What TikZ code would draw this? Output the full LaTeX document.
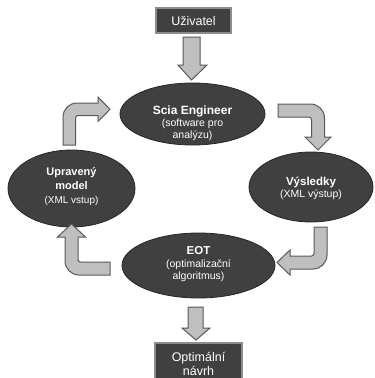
\documentclass[tikz,border=0pt]{standalone}
\usepackage{fontspec}
\setmainfont{Liberation Sans}
\usetikzlibrary{shapes.geometric}
\definecolor{dk}{HTML}{404040}
\definecolor{ol}{HTML}{262626}
\definecolor{bx}{HTML}{8C8C8C}
\definecolor{af}{HTML}{BFBFBF}
\definecolor{ad}{HTML}{595959}
\begin{document}
\begin{tikzpicture}[x=1pt,y=-1pt,
  ell/.style={ellipse, fill=dk, draw=ol, line width=0.8pt, inner sep=0pt},
  boxst/.style={rectangle, fill=dk, draw=bx, line width=1.2pt, inner sep=0pt},
  bigarrow/.style={fill=af, draw=ad, line width=1pt, line join=miter},
  txt/.style={text=white, anchor=base, inner sep=0pt},
  ttl/.style={txt, font=\fontsize{#1}{14}\selectfont\bfseries},
  sub/.style={txt, font=\fontsize{#1}{12}\selectfont},
  boxtxt/.style={txt, font=\fontsize{12.5}{14}\selectfont}]
\fill[white] (0,0) rectangle (375,378);
\clip (0,0) rectangle (375,378);
\useasboundingbox (0,0) rectangle (375,378);

% boxes
\node[boxst, minimum width=75pt, minimum height=25pt] (user) at (193.5,20.5) {};
\node[boxst, minimum width=87pt, minimum height=39pt] (opt) at (198.5,362.5) {};

% ellipses
\node[ell, minimum width=145pt, minimum height=62pt] (scia) at (192.5,114) {};
\node[ell, minimum width=124pt, minimum height=70pt] (vys) at (311,187) {};
\node[ell, minimum width=127pt, minimum height=77pt] (upr) at (71.5,188.5) {};
\node[ell, minimum width=153pt, minimum height=65pt] (eot) at (198.5,265.5) {};

% texts
\node[boxtxt] (userT) at (193.5,25) {Uživatel};
\node[boxtxt] (optT1) at (198.5,361.5) {Optimální};
\node[boxtxt] (optT2) at (198.5,375.5) {návrh};

\node[ttl=12] (sciaT1) at (192.5,114) {Scia Engineer};
\node[sub=10.5] (sciaT2) at (192.5,126.5) {(software pro};
\node[sub=10.5] (sciaT3) at (192.5,138.5) {analýzu)};

\node[ttl=11] (uprT1) at (71.5,175) {Upravený};
\node[ttl=11] (uprT2) at (71.5,189) {model};
\node[sub=10] (uprT3) at (71.5,203) {(XML vstup)};

\node[ttl=11.5] (vysT1) at (311,185) {Výsledky};
\node[sub=10.5] (vysT2) at (311,197) {(XML výstup)};

\node[ttl=11.5] (eotT1) at (198.5,254) {EOT};
\node[sub=10.5] (eotT2) at (198.5,267) {(optimalizační};
\node[sub=10.5] (eotT3) at (198.5,279.5) {algoritmus)};

% straight arrows
\draw[bigarrow] (183,37) -- (200,37) -- (200,65) -- (207,65) -- (191.5,80)
  -- (178,65) -- (183,65) -- cycle;
\draw[bigarrow] (188,307) -- (203,307) -- (203,328) -- (210,328) -- (196,340)
  -- (182,328) -- (188,328) -- cycle;

% bent arrows
% upravený -> scia
\draw[bigarrow] (63,145) -- (63,117) .. controls (63,109.27) and (69.27,103) .. (77,103)
  -- (98,103) -- (98,97) -- (110,109.25) -- (98,121.5) -- (98,115.5) -- (78,115.5)
  .. controls (76.62,115.5) and (75.5,116.62) .. (75.5,118) -- (75.5,145) -- cycle;
% scia -> výsledky
\draw[bigarrow] (278,104) -- (310.5,104) .. controls (318.23,104) and (324.5,110.27) .. (324.5,118)
  -- (324.5,137) -- (331,137) -- (318,150) -- (305,137) -- (311.5,137) -- (311.5,119.5)
  .. controls (311.5,118.12) and (310.38,117) .. (309,117) -- (278,117) -- cycle;
% výsledky -> eot
\draw[bigarrow] (314,227) -- (327,227) -- (327,255) .. controls (327,262.73) and (320.73,269) .. (313,269)
  -- (290,269) -- (290,275) -- (277,262.5) -- (290,250) -- (290,256) -- (311.5,256)
  .. controls (312.88,256) and (314,254.88) .. (314,253.5) -- cycle;
% eot -> upravený
\draw[bigarrow] (71.5,224) -- (85.5,237) -- (78,237) -- (78,259.5)
  .. controls (78,260.88) and (79.12,262) .. (80.5,262) -- (110,262) -- (110,275) -- (79,275)
  .. controls (71.27,275) and (65,268.73) .. (65,261) -- (65,237) -- (57.5,237) -- cycle;
\end{tikzpicture}
\end{document}
